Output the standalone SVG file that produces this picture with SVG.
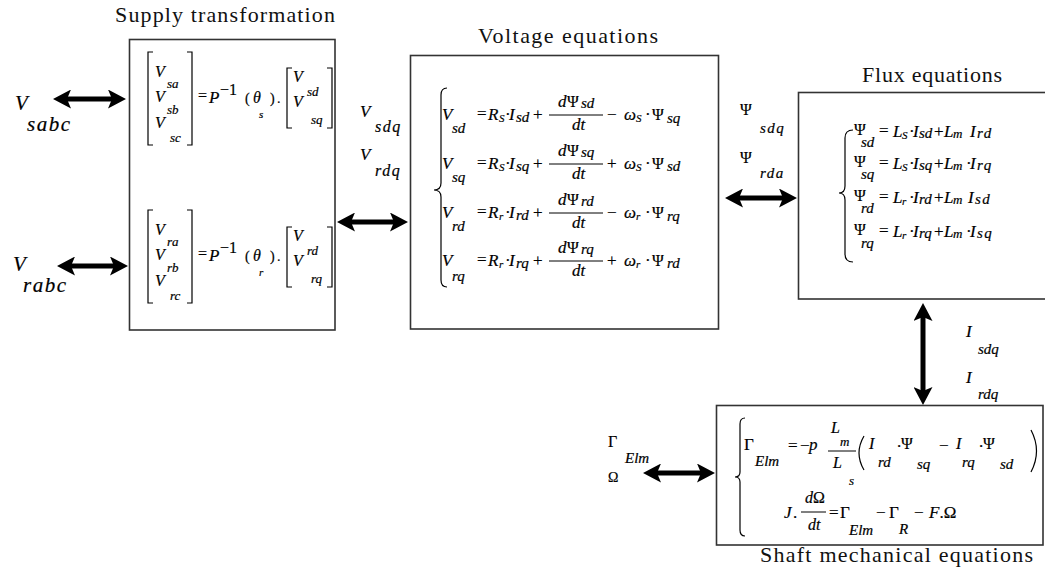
<svg xmlns="http://www.w3.org/2000/svg" width="1045" height="573" viewBox="0 0 1045 573">
<defs>
<style>
.bg{fill:#fff}
.box{fill:#fff;stroke:#333;stroke-width:1.6}
.t{font-family:"Liberation Serif","Times New Roman",serif;font-size:22px;fill:#111}
.m{font-family:"Liberation Serif","Times New Roman",serif;font-style:italic;font-size:17px;fill:#000;stroke:#000;stroke-width:0.2}
.g{font-style:normal}
.s{font-size:15px}
.ss{font-size:13px}
.xs{font-size:11px}
.ls{letter-spacing:1.5px}
.del{fill:none;stroke:#000;stroke-width:1.2}
.bar{stroke:#000;stroke-width:1}
.conn line{stroke:#000;stroke-width:5;marker-start:url(#ah);marker-end:url(#ah)}
</style>
<marker id="ah" viewBox="0 0 18 19" refX="8" refY="9.5" markerWidth="18" markerHeight="19" markerUnits="userSpaceOnUse" orient="auto-start-reverse">
<path d="M0,0 L18,9.5 L0,19 L4,9.5 Z" fill="#000"/>
</marker>
</defs>
<rect class="bg" width="1045" height="573"/>

<g id="connectors" class="conn">
<line x1="63" y1="99" x2="116" y2="99"/>
<line x1="67" y1="266" x2="118" y2="266"/>
<line x1="347" y1="222" x2="398" y2="222"/>
<line x1="735" y1="198" x2="787" y2="198"/>
<line x1="923" y1="313" x2="923" y2="395"/>
<line x1="653" y1="473" x2="705" y2="473"/>
</g>

<g id="labels">
<text class="m" x="15" y="110" style="font-size:21px">V</text>
<text class="m ls" x="27" y="131" style="font-size:21px">sabc</text>
<text class="m" x="13" y="271" style="font-size:21px">V</text>
<text class="m ls" x="23" y="292" style="font-size:21px">rabc</text>
<text class="m" x="360" y="117">V</text>
<text class="m ls" x="375" y="132" style="font-size:16px">sdq</text>
<text class="m" x="360" y="160">V</text>
<text class="m ls" x="375" y="176" style="font-size:16px">rdq</text>
<text class="m g" x="740" y="115" style="font-size:16px">Ψ</text>
<text class="m s ls" x="760" y="133">sdq</text>
<text class="m g" x="740" y="163" style="font-size:16px">Ψ</text>
<text class="m s ls" x="760" y="178">rda</text>
<text class="m" x="966" y="337">I</text>
<text class="m s" x="978" y="354">sdq</text>
<text class="m" x="966" y="383">I</text>
<text class="m s" x="978" y="399">rdq</text>
<text class="m g" x="608" y="447" style="font-size:16px">Γ</text>
<text class="m s" x="625" y="463">Elm</text>
<text class="m g" x="608" y="482" style="font-size:14px">Ω</text>
</g>

<g id="supply">
<text class="t" x="115" y="22" textLength="220">Supply transformation</text>
<rect class="box" x="129.5" y="39.5" width="205.5" height="290.5"/>
<path class="del" d="M153,52 H148 V145 H153 M187,52 H192 V145 H187 M292,68 H287 V128 H292 M327,68 H332 V128 H327"/>
<text class="m" x="155" y="77" style="font-size:16px">V</text>
<text class="m ss" x="167" y="88">sa</text>
<text class="m" x="155" y="102" style="font-size:16px">V</text>
<text class="m ss" x="167" y="114">sb</text>
<text class="m" x="155" y="128" style="font-size:16px">V</text>
<text class="m ss" x="170" y="142">sc</text>
<text class="m g" x="198" y="101" style="font-size:16px">=</text>
<text class="m" x="209" y="103">P</text>
<text class="m g" x="220" y="95" style="font-size:16px">−1</text>
<text class="m g" x="245" y="103" style="font-size:14px">(</text>
<text class="m" x="253" y="103" style="font-size:16px">θ</text>
<text class="m xs" x="259" y="118">s</text>
<text class="m g" x="270" y="103" style="font-size:14px">)</text>
<text class="m g" x="277" y="103" style="font-size:14px">.</text>
<text class="m" x="293" y="82" style="font-size:16px">V</text>
<text class="m ss" x="307" y="96">sd</text>
<text class="m" x="293" y="107" style="font-size:16px">V</text>
<text class="m ss" x="311" y="124">sq</text>
<path class="del" d="M153,210 H148 V303 H153 M187,210 H192 V303 H187 M292,227 H287 V287 H292 M327,227 H332 V287 H327"/>
<text class="m" x="155" y="235" style="font-size:16px">V</text>
<text class="m ss" x="167" y="246">ra</text>
<text class="m" x="155" y="260" style="font-size:16px">V</text>
<text class="m ss" x="167" y="272">rb</text>
<text class="m" x="155" y="286" style="font-size:16px">V</text>
<text class="m ss" x="170" y="300">rc</text>
<text class="m g" x="198" y="259" style="font-size:16px">=</text>
<text class="m" x="209" y="261">P</text>
<text class="m g" x="220" y="253" style="font-size:16px">−1</text>
<text class="m g" x="245" y="261" style="font-size:14px">(</text>
<text class="m" x="253" y="261" style="font-size:16px">θ</text>
<text class="m xs" x="259" y="276">r</text>
<text class="m g" x="270" y="261" style="font-size:14px">)</text>
<text class="m g" x="277" y="261" style="font-size:14px">.</text>
<text class="m" x="293" y="241" style="font-size:16px">V</text>
<text class="m ss" x="307" y="255">rd</text>
<text class="m" x="293" y="266" style="font-size:16px">V</text>
<text class="m ss" x="311" y="283">rq</text>
</g>

<g id="voltage">
<text class="t" x="478" y="43" textLength="180">Voltage equations</text>
<rect class="box" x="410.5" y="55.5" width="308" height="273.5"/>
<path class="del" d="M447,88 Q441,88 441,95 V183 Q441,190 434,190 Q441,190 441,197 V280 Q441,287 447,287"/>
<!-- line 1 -->
<text class="m" x="442" y="120">V</text>
<text class="m s" x="452" y="133">sd</text>
<text class="m g" x="477" y="119">=</text>
<text class="m" x="488" y="120">R</text>
<text class="m xs" x="499" y="122">S</text>
<text class="m g" x="505" y="120">·</text>
<text class="m" x="509" y="120">I</text>
<text class="m s" x="516" y="122">sd</text>
<text class="m g" x="533" y="120">+</text>
<text class="m" x="558" y="107">d</text>
<text class="m g" x="567" y="107" style="font-size:16px">Ψ</text>
<text class="m s" x="581" y="108">sd</text>
<line class="bar" x1="549" y1="115" x2="603" y2="115"/>
<text class="m" x="572" y="130">dt</text>
<text class="m g" x="607" y="120">−</text>
<text class="m" x="624" y="120">ω</text>
<text class="m xs" x="636" y="122">S</text>
<text class="m g" x="645" y="120">·</text>
<text class="m g" x="652" y="120" style="font-size:16px">Ψ</text>
<text class="m s" x="667" y="123">sq</text>
<!-- line 2 -->
<text class="m" x="442" y="169">V</text>
<text class="m s" x="452" y="182">sq</text>
<text class="m g" x="477" y="168">=</text>
<text class="m" x="488" y="169">R</text>
<text class="m xs" x="499" y="171">S</text>
<text class="m g" x="505" y="169">·</text>
<text class="m" x="509" y="169">I</text>
<text class="m s" x="516" y="171">sq</text>
<text class="m g" x="533" y="169">+</text>
<text class="m" x="558" y="156">d</text>
<text class="m g" x="567" y="156" style="font-size:16px">Ψ</text>
<text class="m s" x="581" y="157">sq</text>
<line class="bar" x1="549" y1="164" x2="603" y2="164"/>
<text class="m" x="572" y="179">dt</text>
<text class="m g" x="607" y="169">+</text>
<text class="m" x="624" y="169">ω</text>
<text class="m xs" x="636" y="171">S</text>
<text class="m g" x="645" y="169">·</text>
<text class="m g" x="652" y="169" style="font-size:16px">Ψ</text>
<text class="m s" x="667" y="171">sd</text>
<!-- line 3 -->
<text class="m" x="442" y="218">V</text>
<text class="m s" x="452" y="231">rd</text>
<text class="m g" x="477" y="217">=</text>
<text class="m" x="488" y="218">R</text>
<text class="m xs" x="499" y="220">r</text>
<text class="m g" x="505" y="218">·</text>
<text class="m" x="509" y="218">I</text>
<text class="m s" x="516" y="220">rd</text>
<text class="m g" x="533" y="218">+</text>
<text class="m" x="558" y="205">d</text>
<text class="m g" x="567" y="205" style="font-size:16px">Ψ</text>
<text class="m s" x="581" y="206">rd</text>
<line class="bar" x1="549" y1="213" x2="603" y2="213"/>
<text class="m" x="572" y="228">dt</text>
<text class="m g" x="607" y="218">−</text>
<text class="m" x="624" y="218">ω</text>
<text class="m xs" x="636" y="220">r</text>
<text class="m g" x="645" y="218">·</text>
<text class="m g" x="652" y="218" style="font-size:16px">Ψ</text>
<text class="m s" x="667" y="221">rq</text>
<!-- line 4 -->
<text class="m" x="442" y="266">V</text>
<text class="m s" x="452" y="281">rq</text>
<text class="m g" x="477" y="265">=</text>
<text class="m" x="488" y="266">R</text>
<text class="m xs" x="499" y="268">r</text>
<text class="m g" x="505" y="266">·</text>
<text class="m" x="509" y="266">I</text>
<text class="m s" x="516" y="268">rq</text>
<text class="m g" x="533" y="266">+</text>
<text class="m" x="558" y="253">d</text>
<text class="m g" x="567" y="253" style="font-size:16px">Ψ</text>
<text class="m s" x="581" y="254">rq</text>
<line class="bar" x1="549" y1="261" x2="603" y2="261"/>
<text class="m" x="572" y="276">dt</text>
<text class="m g" x="607" y="266">+</text>
<text class="m" x="624" y="266">ω</text>
<text class="m xs" x="636" y="268">r</text>
<text class="m g" x="645" y="266">·</text>
<text class="m g" x="652" y="266" style="font-size:16px">Ψ</text>
<text class="m s" x="667" y="268">rd</text>
</g>

<g id="flux">
<text class="t" x="862" y="82" textLength="140">Flux equations</text>
<rect class="box" x="798.5" y="92.5" width="260" height="206.5"/>
<path class="del" d="M853,130 Q845,130 845,138 V186 Q845,193 839,193 Q845,193 845,200 V254 Q845,262 853,262"/>
<!-- line 1 -->
<text class="m g" x="854" y="135" style="font-size:16px">Ψ</text>
<text class="m s" x="861" y="147">sd</text>
<text class="m g" x="879" y="136">=</text>
<text class="m" x="893" y="137">L</text>
<text class="m xs" x="902" y="139">S</text>
<text class="m g" x="909" y="137">·</text>
<text class="m" x="913" y="137">I</text>
<text class="m s" x="919" y="138">sd</text>
<text class="m g" x="934" y="137">+</text>
<text class="m" x="944" y="137">L</text>
<text class="m ss" x="953" y="138">m</text>
<text class="m" x="970" y="137">I</text>
<text class="m s ls" x="977" y="138">rd</text>
<!-- line 2 -->
<text class="m g" x="854" y="167" style="font-size:16px">Ψ</text>
<text class="m s" x="861" y="179">sq</text>
<text class="m g" x="879" y="168">=</text>
<text class="m" x="893" y="169">L</text>
<text class="m xs" x="902" y="171">S</text>
<text class="m g" x="909" y="169">·</text>
<text class="m" x="913" y="169">I</text>
<text class="m s" x="919" y="170">sq</text>
<text class="m g" x="934" y="169">+</text>
<text class="m" x="944" y="169">L</text>
<text class="m ss" x="953" y="170">m</text>
<text class="m g" x="966" y="169">·</text>
<text class="m" x="970" y="169">I</text>
<text class="m s ls" x="977" y="170">rq</text>
<!-- line 3 -->
<text class="m g" x="854" y="201" style="font-size:16px">Ψ</text>
<text class="m s" x="861" y="213">rd</text>
<text class="m g" x="879" y="202">=</text>
<text class="m" x="893" y="203">L</text>
<text class="m xs" x="902" y="205">r</text>
<text class="m g" x="909" y="203">·</text>
<text class="m" x="913" y="203">I</text>
<text class="m s" x="919" y="204">rd</text>
<text class="m g" x="934" y="203">+</text>
<text class="m" x="944" y="203">L</text>
<text class="m ss" x="953" y="204">m</text>
<text class="m" x="968" y="203">I</text>
<text class="m s ls" x="975" y="204">sd</text>
<!-- line 4 -->
<text class="m g" x="854" y="235" style="font-size:16px">Ψ</text>
<text class="m s" x="861" y="248">rq</text>
<text class="m g" x="879" y="236">=</text>
<text class="m" x="893" y="237">L</text>
<text class="m xs" x="902" y="239">r</text>
<text class="m g" x="909" y="237">·</text>
<text class="m" x="913" y="237">I</text>
<text class="m s" x="919" y="238">rq</text>
<text class="m g" x="934" y="237">+</text>
<text class="m" x="944" y="237">L</text>
<text class="m ss" x="953" y="238">m</text>
<text class="m g" x="966" y="237">·</text>
<text class="m" x="970" y="237">I</text>
<text class="m s ls" x="977" y="238">sq</text>
</g>

<g id="shaft">
<rect class="box" x="716.5" y="405.5" width="326.5" height="139.5"/>
<text class="t" x="760" y="562" textLength="273">Shaft mechanical equations</text>
<path class="del" d="M745,418 Q740,418 740,424 V472 Q740,477 735,477 Q740,477 740,482 V530 Q740,536 745,536"/>
<!-- line 1 -->
<text class="m g" x="744" y="450">Γ</text>
<text class="m s" x="755" y="466">Elm</text>
<text class="m g" x="788" y="451">=</text>
<text class="m g" x="800" y="451">−</text>
<text class="m" x="809" y="450">p</text>
<text class="m" x="831" y="433" style="font-size:16px">L</text>
<text class="m ss" x="840" y="446">m</text>
<line class="bar" x1="828" y1="451" x2="856" y2="451"/>
<text class="m" x="833" y="468" style="font-size:16px">L</text>
<text class="m ss" x="849" y="485">s</text>
<path class="del" d="M864,436 Q854,453 864,470 M1031,430 Q1042,451 1031,472"/>
<text class="m" x="869" y="449" style="font-size:16px">I</text>
<text class="m s" x="878" y="467">rd</text>
<text class="m g" x="897" y="447">.</text>
<text class="m g" x="901" y="449" style="font-size:16px">Ψ</text>
<text class="m s" x="917" y="469">sq</text>
<text class="m g" x="939" y="451">−</text>
<text class="m" x="956" y="449" style="font-size:16px">I</text>
<text class="m s" x="962" y="467">rq</text>
<text class="m g" x="979" y="447">.</text>
<text class="m g" x="983" y="449" style="font-size:16px">Ψ</text>
<text class="m s" x="1000" y="469">sd</text>
<!-- line 2 -->
<text class="m" x="784" y="518">J</text>
<text class="m g" x="793" y="518">.</text>
<text class="m" x="805" y="503" style="font-size:16px">d</text>
<text class="m g" x="813" y="503" style="font-size:16px">Ω</text>
<line class="bar" x1="801" y1="512" x2="826" y2="512"/>
<text class="m" x="808" y="530" style="font-size:16px">dt</text>
<text class="m g" x="829" y="518">=</text>
<text class="m g" x="840" y="518">Γ</text>
<text class="m s" x="849" y="535">Elm</text>
<text class="m g" x="876" y="518">−</text>
<text class="m g" x="889" y="518">Γ</text>
<text class="m s" x="899" y="534">R</text>
<text class="m g" x="914" y="518">−</text>
<text class="m" x="929" y="518">F<tspan class="g">.Ω</tspan></text>
</g>
</svg>
